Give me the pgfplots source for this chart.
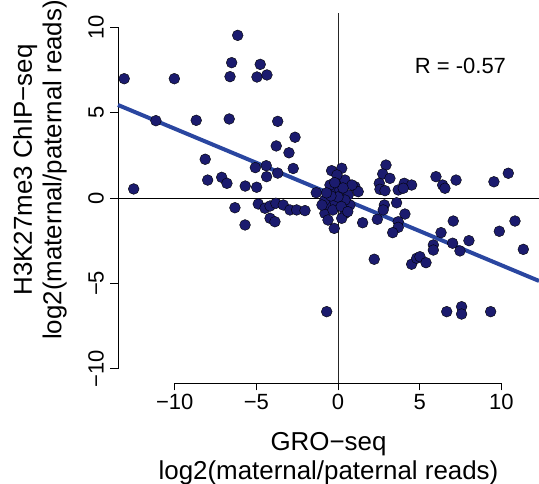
\documentclass[border=0pt]{standalone}
\usepackage{pgfplots}
\pgfplotsset{compat=1.18}
\usepackage{fontspec}
\setmainfont{Liberation Sans}
\definecolor{ptcol}{RGB}{27,27,110}
\definecolor{regcol}{RGB}{42,70,160}
\begin{document}
\begin{tikzpicture}
\useasboundingbox (0,0) rectangle (539pt,484pt);
\begin{axis}[
  at={(118pt,101pt)}, anchor=south west,
  width=421pt, height=370pt, scale only axis,
  xmin=-13.47, xmax=12.31, ymin=-10.84, ymax=10.84,
  clip=false,
  axis line style={draw=none},
  xtick={-10,-5,0,5,10}, xticklabels={−10,−5,0,5,10},
  ytick={-10,-5,0,5,10}, yticklabels={−10,−5,0,5,10},
  xtick pos=bottom, ytick pos=left,
  tick align=outside,
  major tick length=7.5pt,
  tick style={black, line width=0.9pt},
  ticklabel style={font=\fontsize{22}{26}\selectfont},
  yticklabel style={rotate=90, anchor=south},
  yticklabel shift=3pt,
  xlabel={GRO−seq\\log2(maternal/paternal reads)},
  xlabel style={align=center, font=\fontsize{25.9}{29.5}\selectfont, at={(axis description cs:0.5,-0.1324)}, anchor=north, inner sep=0pt},
  ylabel={H3K27me3 ChIP−seq\\log2(maternal/paternal reads)},
  ylabel style={align=center, font=\fontsize{25.9}{29.5}\selectfont, at={(axis description cs:-0.2494,0.576)}, anchor=north, inner sep=0pt},
]
% axis lines (R style)
\addplot[black, line width=0.9pt, forget plot] coordinates {(-13.47,-10) (-13.47,10)};
\addplot[black, line width=0.9pt, forget plot] coordinates {(-10,-10.84) (10,-10.84)};
% zero lines
\addplot[black, line width=0.9pt, forget plot] coordinates {(-13.47,0) (12.31,0)};
\addplot[black!85, line width=0.9pt, forget plot] coordinates {(0,-10.84) (0,10.84)};
% points
\addplot[only marks, mark=*, mark size=5.4pt, mark options={draw=none, fill=ptcol}] coordinates {
(-6.14,9.53) (-6.51,7.93) (-6.61,7.11) (-13.09,6.99) (-10.02,6.99)
(-11.15,4.53) (-8.68,4.55) (-6.66,4.63) (-8.13,2.27) (-4.76,7.83)
(-4.96,7.09) (-4.35,7.21) (-3.69,4.49) (-2.63,3.56) (-3.78,3.05)
(-3.00,2.65) (-12.51,0.53) (-7.98,1.05) (-7.12,1.21) (-6.80,0.86)
(-5.68,0.70) (-4.98,0.63) (-5.06,1.78) (-4.39,1.89) (-4.37,1.25)
(-3.69,1.46) (-2.74,1.73) (-1.33,0.31) (-6.31,-0.57) (-5.69,-1.58)
(-4.88,-0.35) (-4.47,-0.60) (-4.16,-0.47) (-3.80,-0.31) (-3.35,-0.41)
(-2.94,-0.70) (-2.53,-0.70) (-2.02,-0.74) (-4.16,-1.19) (-3.86,-1.39)
(-0.69,-6.66)
(-0.39,1.60) (0.23,1.74) (-0.23,-1.78) (1.51,-1.45) (1.04,0.66)
(1.24,0.37) (-0.80,-0.90) (0,0.95) (-0.59,-0.41) (0.43,-0.90)
(0.63,0.18) (-0.39,0.37) (-0.18,-0.22) (0.23,-1.19) (-0.49,0.76)
(0.43,1.05) (0.12,0.47) (0.73,-0.41) (-0.80,-0.12) (-0.31,-0.70)
(0.43,-0.12) (0,0.06) (0.86,0.76) (-0.98,-0.41) (-0.61,-1.29)
(-0.06,1.35) (0.31,0.59) (-0.43,0.12) (0.2,-0.5) (-0.2,0.9)
(0.6,-0.8) (-0.7,0.3) (2.22,-3.59)
(2.94,1.93) (2.74,1.41) (3.18,1.15) (2.53,0.86) (2.57,0.51)
(2.88,0.43) (3.69,0.47) (4.06,0.86) (4.51,0.76) (4.00,0.57)
(6.00,1.25) (6.41,0.76) (6.55,0.57) (7.23,1.05) (9.55,0.95)
(10.43,1.45) (2.84,-0.41) (2.77,-0.70) (3.59,-0.28) (2.41,-1.25)
(4.10,-0.94) (3.69,-1.39) (3.69,-1.72) (3.35,-2.03) (7.06,-1.35)
(6.31,-2.03) (7.02,-2.65) (5.84,-2.75) (5.84,-3.05) (7.47,-3.10)
(8.02,-2.50) (9.88,-1.95) (10.84,-1.35) (11.35,-3.01) (4.51,-3.88)
(4.82,-3.53) (5.02,-3.44) (5.39,-3.79) (6.66,-6.66) (7.57,-6.37)
(7.57,-6.80) (9.35,-6.66)
};
% regression line
\addplot[regcol, line width=4pt, forget plot] coordinates {(-13.47,5.45) (12.31,-4.86)};
\node[anchor=base, font=\fontsize{22}{26}\selectfont, inner sep=0pt] at (axis cs:7.5,7.32) {R = -0.57};
\end{axis}
\end{tikzpicture}
\end{document}
